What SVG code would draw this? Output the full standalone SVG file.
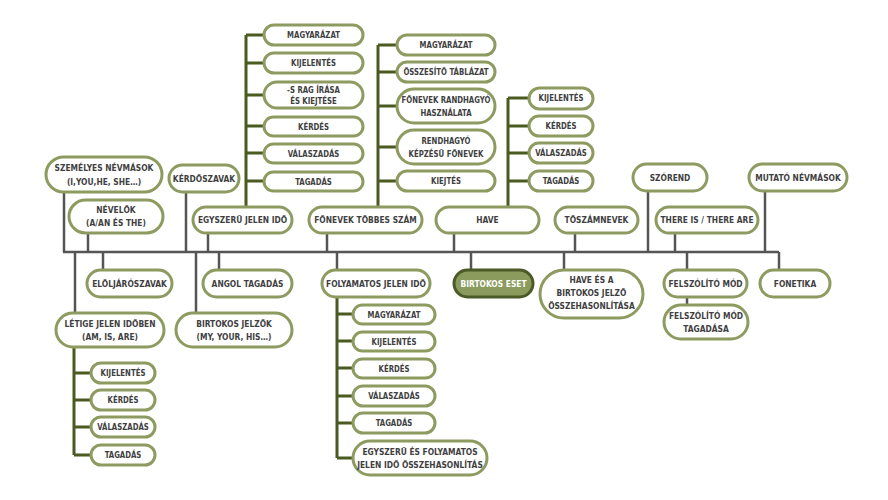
<svg xmlns="http://www.w3.org/2000/svg" width="888" height="500" viewBox="0 0 888 500">
<style>
.b{fill:#fff;stroke:#8d9b60;stroke-width:3}
.f{fill:#8b9a5d;stroke:#4b5a26;stroke-width:3}
.t{font-family:"Liberation Sans Narrow","DejaVu Sans Condensed","Liberation Sans",sans-serif;font-weight:bold;font-size:9.5px;fill:#3f3f3f;text-anchor:middle}
.s{font-size:9px}
.w{fill:#fff}
.g{stroke:#555;stroke-width:2.5;fill:none}
.d{stroke:#4a5a20;stroke-width:3;fill:none}
</style>
<rect width="888" height="500" fill="#fff"/>
<g id="connectors">
<path class="g" d="M63 252H779M64 192V252M88 233V252M186 192V252M208 233V252M327 233V252M454 233V252M575 233V252M648 191V252M675 233V252M765 191V252M75 252V313M103 252V270M196 252V313M219 252V270M337 252V270M471 252V270M564 252V270M687 252V270M779 252V270M687 297V305"/>
<path class="d" d="M246 207V35M246 35H264M246 63H264M246 95H264M246 126H264M246 153H264M246 181H264"/>
<path class="d" d="M378 207V45M378 45H397M378 72H397M378 106H397M378 147H397M378 181H397"/>
<path class="d" d="M508 207V98M508 98H529M508 126H529M508 153H529M508 181H529"/>
<path class="d" d="M74 347V455M74 373H91M74 400H91M74 427H91M74 455H91"/>
<path class="d" d="M337 297V458M337 314H353M337 341H353M337 368H353M337 396H353M337 423H353M337 458H353"/>
</g>
<g id="n_szemelyes"><rect class="b" x="46" y="157" width="116" height="35" rx="17.5"/><text class="t" transform="matrix(.88 0 0 1 104 0)" y="171.5">SZEMÉLYES NÉVMÁSOK</text><text class="t" transform="matrix(.88 0 0 1 104 0)" y="185">(I,YOU,HE, SHE…)</text></g>
<g id="n_kerdoszavak"><rect class="b" x="169" y="165" width="70" height="27" rx="13.5"/><text class="t" transform="matrix(.88 0 0 1 204 0)" y="182">KÉRDŐSZAVAK</text></g>
<g id="n_nevelok"><rect class="b" x="69" y="200" width="94" height="33" rx="16.5"/><text class="t" transform="matrix(.88 0 0 1 116 0)" y="213.5">NÉVELŐK</text><text class="t" transform="matrix(.88 0 0 1 116 0)" y="226.5">(A/AN ÉS THE)</text></g>
<g id="n_egyszeru"><rect class="b" x="193" y="207" width="99" height="26" rx="13"/><text class="t" transform="matrix(.88 0 0 1 242.5 0)" y="223.5">EGYSZERŰ JELEN IDŐ</text></g>
<g id="n_fonevek"><rect class="b" x="309" y="207" width="113" height="26" rx="13"/><text class="t" transform="matrix(.88 0 0 1 365.5 0)" y="223.5">FŐNEVEK TÖBBES SZÁM</text></g>
<g id="n_have"><rect class="b" x="436" y="207" width="103" height="26" rx="13"/><text class="t" transform="matrix(.88 0 0 1 487.5 0)" y="223.5">HAVE</text></g>
<g id="n_toszamnevek"><rect class="b" x="555" y="207" width="83" height="26" rx="13"/><text class="t" transform="matrix(.88 0 0 1 596.5 0)" y="223.5">TŐSZÁMNEVEK</text></g>
<g id="n_szorend"><rect class="b" x="633" y="164" width="74" height="27" rx="13.5"/><text class="t" transform="matrix(.88 0 0 1 670 0)" y="181">SZÓREND</text></g>
<g id="n_thereis"><rect class="b" x="656" y="207" width="102" height="26" rx="13"/><text class="t" transform="matrix(.88 0 0 1 707 0)" y="223.5">THERE IS / THERE ARE</text></g>
<g id="n_mutato"><rect class="b" x="749" y="164" width="98" height="27" rx="13.5"/><text class="t" transform="matrix(.88 0 0 1 798 0)" y="181">MUTATÓ NÉVMÁSOK</text></g>
<g id="n_eloljaro"><rect class="b" x="87" y="270" width="85" height="27" rx="13.5"/><text class="t" transform="matrix(.88 0 0 1 129.5 0)" y="287">ELÖLJÁRÓSZAVAK</text></g>
<g id="n_angol"><rect class="b" x="203" y="270" width="89" height="27" rx="13.5"/><text class="t" transform="matrix(.88 0 0 1 247.5 0)" y="287">ANGOL TAGADÁS</text></g>
<g id="n_letige"><rect class="b" x="56" y="313" width="108" height="34" rx="17"/><text class="t" transform="matrix(.88 0 0 1 110 0)" y="327">LÉTIGE JELEN IDŐBEN</text><text class="t" transform="matrix(.88 0 0 1 110 0)" y="340">(AM, IS, ARE)</text></g>
<g id="n_birtjelzok"><rect class="b" x="176" y="313" width="116" height="34" rx="17"/><text class="t" transform="matrix(.88 0 0 1 234 0)" y="327">BIRTOKOS JELZŐK</text><text class="t" transform="matrix(.88 0 0 1 234 0)" y="340">(MY, YOUR, HIS…)</text></g>
<g id="n_folyamatos"><rect class="b" x="322" y="270" width="108" height="27" rx="13.5"/><text class="t" transform="matrix(.88 0 0 1 376 0)" y="287">FOLYAMATOS JELEN IDŐ</text></g>
<g id="n_birtokoseset"><rect class="f" x="454" y="270" width="79" height="27" rx="13.5"/><text class="t w" transform="matrix(.88 0 0 1 493.5 0)" y="287">BIRTOKOS ESET</text></g>
<g id="n_haveesa"><rect class="b" x="540" y="270" width="103" height="48" rx="24"/><text class="t" transform="matrix(.88 0 0 1 591.5 0)" y="283">HAVE ÉS A</text><text class="t" transform="matrix(.88 0 0 1 591.5 0)" y="296">BIRTOKOS JELZŐ</text><text class="t" transform="matrix(.88 0 0 1 591.5 0)" y="309">ÖSSZEHASONLÍTÁSA</text></g>
<g id="n_felszolito"><rect class="b" x="664" y="270" width="83" height="27" rx="13.5"/><text class="t" transform="matrix(.88 0 0 1 705.5 0)" y="287">FELSZÓLÍTÓ MÓD</text></g>
<g id="n_felszolito_tag"><rect class="b" x="664" y="305" width="84" height="34" rx="17"/><text class="t" transform="matrix(.88 0 0 1 706 0)" y="319">FELSZÓLÍTÓ MÓD</text><text class="t" transform="matrix(.88 0 0 1 706 0)" y="332">TAGADÁSA</text></g>
<g id="n_fonetika"><rect class="b" x="760" y="270" width="70" height="27" rx="13.5"/><text class="t" transform="matrix(.88 0 0 1 795 0)" y="287">FONETIKA</text></g>
<g id="e_magyarazat"><rect class="b" x="264" y="25" width="99" height="20" rx="10"/><text class="t s" transform="matrix(.86 0 0 1 313.5 0)" y="38.5">MAGYARÁZAT</text></g>
<g id="e_kijelentes"><rect class="b" x="264" y="53" width="99" height="20" rx="10"/><text class="t s" transform="matrix(.86 0 0 1 313.5 0)" y="66.5">KIJELENTÉS</text></g>
<g id="e_srag"><rect class="b" x="264" y="82" width="99" height="26" rx="13"/><text class="t s" transform="matrix(.86 0 0 1 313.5 0)" y="93">-S RAG ÍRÁSA</text><text class="t s" transform="matrix(.86 0 0 1 313.5 0)" y="104">ÉS KIEJTÉSE</text></g>
<g id="e_kerdes"><rect class="b" x="264" y="117" width="99" height="19" rx="9.5"/><text class="t s" transform="matrix(.86 0 0 1 313.5 0)" y="130">KÉRDÉS</text></g>
<g id="e_valaszadas"><rect class="b" x="264" y="144" width="99" height="19" rx="9.5"/><text class="t s" transform="matrix(.86 0 0 1 313.5 0)" y="157">VÁLASZADÁS</text></g>
<g id="e_tagadas"><rect class="b" x="264" y="172" width="99" height="19" rx="9.5"/><text class="t s" transform="matrix(.86 0 0 1 313.5 0)" y="185">TAGADÁS</text></g>
<g id="f_magyarazat"><rect class="b" x="397" y="35" width="98" height="20" rx="10"/><text class="t s" transform="matrix(.86 0 0 1 446 0)" y="48.5">MAGYARÁZAT</text></g>
<g id="f_osszesito"><rect class="b" x="397" y="62" width="98" height="20" rx="10"/><text class="t s" transform="matrix(.86 0 0 1 446 0)" y="75.5">ÖSSZESÍTŐ TÁBLÁZAT</text></g>
<g id="f_randhagyo"><rect class="b" x="397" y="89" width="98" height="34" rx="17"/><text class="t s" transform="matrix(.86 0 0 1 446 0)" y="103">FŐNEVEK RANDHAGYÓ</text><text class="t s" transform="matrix(.86 0 0 1 446 0)" y="116">HASZNÁLATA</text></g>
<g id="f_rendhagyo"><rect class="b" x="397" y="130" width="98" height="34" rx="17"/><text class="t s" transform="matrix(.86 0 0 1 446 0)" y="144">RENDHAGYÓ</text><text class="t s" transform="matrix(.86 0 0 1 446 0)" y="157">KÉPZÉSŰ FŐNEVEK</text></g>
<g id="f_kiejtes"><rect class="b" x="397" y="171" width="98" height="20" rx="10"/><text class="t s" transform="matrix(.86 0 0 1 446 0)" y="184.5">KIEJTÉS</text></g>
<g id="h_kijelentes"><rect class="b" x="529" y="88" width="64" height="21" rx="10.5"/><text class="t s" transform="matrix(.86 0 0 1 561 0)" y="101.5">KIJELENTÉS</text></g>
<g id="h_kerdes"><rect class="b" x="529" y="116" width="64" height="20" rx="10"/><text class="t s" transform="matrix(.86 0 0 1 561 0)" y="129.5">KÉRDÉS</text></g>
<g id="h_valaszadas"><rect class="b" x="529" y="143" width="64" height="20" rx="10"/><text class="t s" transform="matrix(.86 0 0 1 561 0)" y="156.5">VÁLASZADÁS</text></g>
<g id="h_tagadas"><rect class="b" x="529" y="171" width="64" height="20" rx="10"/><text class="t s" transform="matrix(.86 0 0 1 561 0)" y="184.5">TAGADÁS</text></g>
<g id="l_kijelentes"><rect class="b" x="91" y="363" width="64" height="20" rx="10"/><text class="t s" transform="matrix(.86 0 0 1 123 0)" y="376.5">KIJELENTÉS</text></g>
<g id="l_kerdes"><rect class="b" x="91" y="390" width="64" height="20" rx="10"/><text class="t s" transform="matrix(.86 0 0 1 123 0)" y="403.5">KÉRDÉS</text></g>
<g id="l_valaszadas"><rect class="b" x="91" y="417" width="64" height="20" rx="10"/><text class="t s" transform="matrix(.86 0 0 1 123 0)" y="430.5">VÁLASZADÁS</text></g>
<g id="l_tagadas"><rect class="b" x="91" y="445" width="64" height="20" rx="10"/><text class="t s" transform="matrix(.86 0 0 1 123 0)" y="458.5">TAGADÁS</text></g>
<g id="p_magyarazat"><rect class="b" x="353" y="305" width="82" height="19" rx="9.5"/><text class="t s" transform="matrix(.86 0 0 1 394 0)" y="318">MAGYARÁZAT</text></g>
<g id="p_kijelentes"><rect class="b" x="353" y="332" width="82" height="19" rx="9.5"/><text class="t s" transform="matrix(.86 0 0 1 394 0)" y="345">KIJELENTÉS</text></g>
<g id="p_kerdes"><rect class="b" x="353" y="359" width="82" height="19" rx="9.5"/><text class="t s" transform="matrix(.86 0 0 1 394 0)" y="372">KÉRDÉS</text></g>
<g id="p_valaszadas"><rect class="b" x="353" y="386" width="82" height="20" rx="10"/><text class="t s" transform="matrix(.86 0 0 1 394 0)" y="399.5">VÁLASZADÁS</text></g>
<g id="p_tagadas"><rect class="b" x="353" y="413" width="82" height="20" rx="10"/><text class="t s" transform="matrix(.86 0 0 1 394 0)" y="426.5">TAGADÁS</text></g>
<g id="p_osszehasonlitas"><rect class="b" x="353" y="441" width="134" height="34" rx="17"/><text class="t" transform="matrix(.88 0 0 1 420 0)" y="455">EGYSZERŰ ÉS FOLYAMATOS</text><text class="t" transform="matrix(.88 0 0 1 420 0)" y="468">JELEN IDŐ ÖSSZEHASONLÍTÁS</text></g>
</svg>
